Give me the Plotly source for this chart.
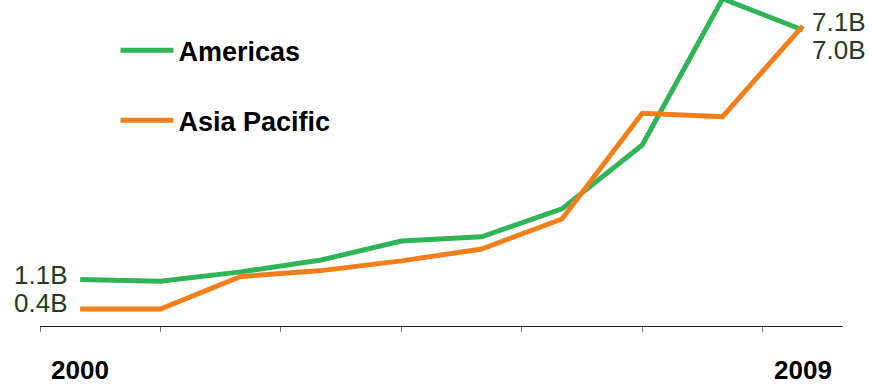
import plotly.graph_objects as go

years = [2000, 2001, 2002, 2003, 2004, 2005, 2006, 2007, 2008, 2009]
americas = [1.10, 1.06, 1.28, 1.56, 2.01, 2.11, 2.77, 4.28, 7.74, 7.00]
asia_pacific = [0.40, 0.40, 1.17, 1.31, 1.54, 1.82, 2.53, 5.03, 4.95, 7.10]
series_names = ["Americas", "Asia Pacific"]
tick_positions = [1999.5, 2001, 2002.5, 2004, 2005.5, 2007, 2008.5]
year_labels = ["2000", "2009"]

GREEN = "#2fb457"
ORANGE = "#f47f1a"
LABEL = "#1e3d24"

fig = go.Figure()
for i, (name, vals, col) in enumerate(zip(series_names, [americas, asia_pacific], [GREEN, ORANGE])):
    fig.add_trace(go.Scatter(
        x=years, y=vals, mode="lines", name=name,
        line=dict(color=col, width=5), legendgroup=f"g{i}",
    ))

VFS = 26
ann = []
ann.append(dict(x=years[0], y=americas[0], text=f"{americas[0]:.1f}B", xanchor="right",
                yanchor="middle", xshift=-10, yshift=4, showarrow=False,
                font=dict(size=VFS, color=LABEL)))
ann.append(dict(x=years[0], y=asia_pacific[0], text=f"{asia_pacific[0]:.1f}B", xanchor="right",
                yanchor="middle", xshift=-10, yshift=6, showarrow=False,
                font=dict(size=VFS, color=LABEL)))
ann.append(dict(x=years[-1], y=asia_pacific[-1], text=f"{asia_pacific[-1]:.1f}B", xanchor="left",
                yanchor="middle", xshift=7, yshift=4, showarrow=False,
                font=dict(size=VFS, color=LABEL)))
ann.append(dict(x=years[-1], y=americas[-1], text=f"{americas[-1]:.1f}B", xanchor="left",
                yanchor="middle", xshift=7, yshift=-20, showarrow=False,
                font=dict(size=VFS, color=LABEL)))
for lab in year_labels:
    ann.append(dict(x=int(lab), y=0, yref="paper", text=f"<b>{lab}</b>", xanchor="center",
                    yanchor="middle", yshift=-44, showarrow=False,
                    font=dict(size=26, color="#000000")))

fig.update_layout(
    width=873, height=384,
    margin=dict(l=40, r=30, t=0, b=58),
    paper_bgcolor="white", plot_bgcolor="white",
    font=dict(family="Liberation Sans, Arial, sans-serif"),
    showlegend=True,
    legend=dict(
        x=0.094, y=0.92, xanchor="left", yanchor="top",
        font=dict(size=27, color="#000000", family="Liberation Sans, Arial, sans-serif", weight="bold"),
        bgcolor="rgba(0,0,0,0)", borderwidth=0,
        traceorder="grouped", tracegroupgap=32, itemwidth=53,
    ),
    xaxis=dict(
        range=[1999.5, 2009.5], showgrid=False, zeroline=False,
        showline=True, linecolor="#222222", linewidth=1.3,
        tickmode="array", tickvals=tick_positions, ticks="outside",
        ticklen=5, tickcolor="#777777", tickwidth=1.3, showticklabels=False,
    ),
    yaxis=dict(range=[0, 7.71], visible=False, showgrid=False, zeroline=False),
    annotations=ann,
)

fig.write_html("out.html")
